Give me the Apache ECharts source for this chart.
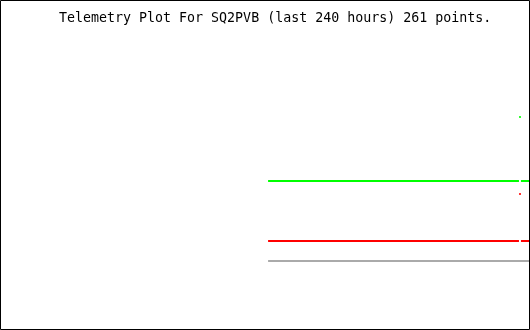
<!DOCTYPE html>
<html>
<head>
<meta charset="utf-8">
<script src="https://cdn.jsdelivr.net/npm/echarts@6/dist/echarts.min.js"></script>
<style>
html,body{margin:0;padding:0;background:#fff;}
#c{width:530px;height:330px;}
</style>
</head>
<body>
<div id="c"></div>
<script>
// Data (hours relative to now, values in arbitrary telemetry units)
const titleText = 'Telemetry Plot For SQ2PVB (last 240 hours) 261 points.';
const timeH = [-118.6, -5.0, -4.53, -4.1, 0];
const greenVals = [43.6, 43.6, 69.2, 43.6, 43.6];
const redVals = [19.6, 19.6, 38.4, 19.6, 19.6];
const grayVals = [11.6, 11.6, 11.6, 11.6, 11.6];
const spikeIndex = 2;

function lineData(vals, breakAtSpike) {
  return timeH.map((t, i) => (breakAtSpike && i === spikeIndex) ? [t, '-'] : [t, vals[i]]);
}
function spikeData(vals) {
  return [[timeH[spikeIndex], vals[spikeIndex]]];
}

const chart = echarts.init(document.getElementById('c'), null, {renderer: 'canvas'});
chart.setOption({
  animation: false,
  backgroundColor: '#ffffff',
  grid: {left: 0, right: 0, top: 40, bottom: 40},
  xAxis: {type: 'value', min: -240, max: 0, show: false},
  yAxis: {type: 'value', min: 0, max: 100, show: false},
  title: {
    text: titleText, left: 59, top: 12, padding: 0,
    textStyle: {fontFamily: 'DejaVu Sans Mono', fontSize: 13.3, fontWeight: 'normal', color: '#000'}
  },
  graphic: [{
    type: 'rect', silent: true, z: 100,
    shape: {x: 0.5, y: 0.5, width: 529, height: 329},
    style: {fill: 'none', stroke: '#000', lineWidth: 1}
  }],
  series: [
    {type: 'line', data: lineData(grayVals, false), symbol: 'none', connectNulls: false,
     lineStyle: {color: '#aaaaaa', width: 2, cap: 'butt'}},
    {type: 'line', data: lineData(redVals, true), symbol: 'none', connectNulls: false,
     lineStyle: {color: '#ff0000', width: 2, cap: 'butt'}},
    {type: 'line', data: lineData(greenVals, true), symbol: 'none', connectNulls: false,
     lineStyle: {color: '#00ff00', width: 2, cap: 'butt'}},
    {type: 'scatter', data: spikeData(redVals), symbol: 'rect', symbolSize: 2,
     itemStyle: {color: '#ff0000'}},
    {type: 'scatter', data: spikeData(greenVals), symbol: 'rect', symbolSize: 2,
     itemStyle: {color: '#00ff00'}}
  ]
});
</script>
</body>
</html>
